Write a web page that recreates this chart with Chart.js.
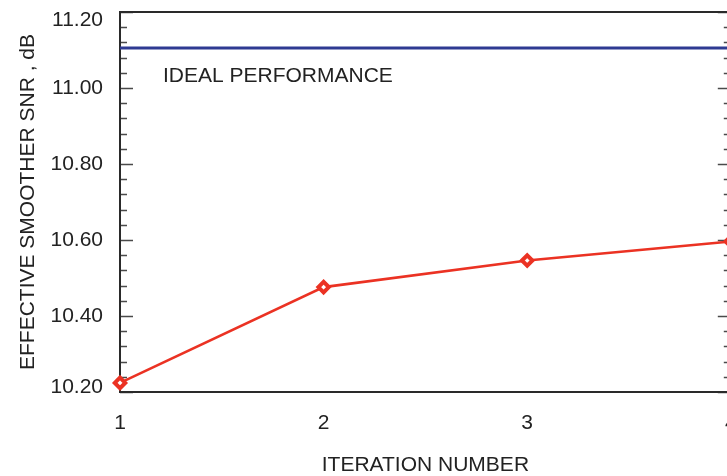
<!DOCTYPE html>
<html>
<head>
<meta charset="utf-8">
<script src="https://cdn.jsdelivr.net/npm/chart.js@4/dist/chart.umd.min.js"></script>
<style>
  html, body { margin: 0; padding: 0; background: #fff; overflow: hidden; width: 727px; height: 476px; }
  #wrap { position: relative; width: 740px; height: 476px; }
</style>
</head>
<body>
<div id="wrap"><canvas id="chart" width="740" height="476"></canvas></div>
<script>
// Effective smoother SNR versus iteration number
const iterations   = [1, 2, 3, 4];
const smootherSnr  = [10.224, 10.476, 10.546, 10.596];
const idealSnr     = 11.105;
const xTickLabels  = ['1', '2', '3', '4'];
const yTickValues  = [10.20, 10.40, 10.60, 10.80, 11.00, 11.20];
const yTickLabels  = ['10.20', '10.40', '10.60', '10.80', '11.00', '11.20'];
const idealLabel   = 'IDEAL PERFORMANCE';

const FONT = '"Liberation Sans", Arial, Helvetica, sans-serif';
const TEXT = '#222222';
const AXIS = '#2a2a2a';
const RED  = '#eb3223';
const BLUE = '#2e3a92';

// Box frame, inward ticks on both vertical sides, y labels and the reference caption
const framePlugin = {
  id: 'frame',
  beforeDatasetsDraw(chart) {
    const { ctx, chartArea: a, scales: { y } } = chart;
    ctx.save();
    // minor / major ticks
    ctx.strokeStyle = '#4a4a4a';
    ctx.lineWidth = 1.6;
    const minorStep = 0.04;
    const steps = Math.round((y.max - y.min) / minorStep);
    for (let i = 0; i <= steps; i++) {
      const v = y.min + i * minorStep;
      const py = Math.round(y.getPixelForValue(v)) + 0.5;
      const major = i % 5 === 0;
      const len = major ? 13 : 7;
      ctx.beginPath();
      ctx.moveTo(a.left, py); ctx.lineTo(a.left + len, py);
      ctx.moveTo(a.right, py); ctx.lineTo(a.right - len, py);
      ctx.stroke();
    }
    // frame
    ctx.strokeStyle = AXIS;
    ctx.lineWidth = 2;
    ctx.strokeRect(a.left, a.top, a.right - a.left, a.bottom - a.top);
    ctx.restore();
  },
  afterDraw(chart) {
    const { ctx, chartArea: a, scales: { y } } = chart;
    ctx.save();
    ctx.fillStyle = TEXT;
    ctx.font = '21px ' + FONT;
    ctx.textAlign = 'right';
    ctx.textBaseline = 'middle';
    yTickValues.forEach((v, i) => {
      let py = y.getPixelForValue(v);
      if (i === 0) py -= 5;
      if (i === yTickValues.length - 1) py += 8;
      ctx.fillText(yTickLabels[i], a.left - 17, py);
    });
    ctx.textAlign = 'left';
    ctx.fillText(idealLabel, a.left + 43, y.getPixelForValue(idealSnr) + 28);
    ctx.restore();
  }
};

new Chart(document.getElementById('chart'), {
  type: 'line',
  data: {
    datasets: [
      {
        label: 'Ideal',
        data: [{ x: iterations[0], y: idealSnr }, { x: iterations[iterations.length - 1], y: idealSnr }],
        borderColor: BLUE,
        borderWidth: 3,
        pointRadius: 0,
        clip: false
      },
      {
        label: 'Smoother',
        data: iterations.map((x, i) => ({ x, y: smootherSnr[i] })),
        borderColor: RED,
        borderWidth: 2.6,
        pointStyle: 'rectRot',
        pointRadius: 5.2,
        pointBorderWidth: 4,
        pointBorderColor: RED,
        pointBackgroundColor: '#ffffff',
        tension: 0,
        clip: false
      }
    ]
  },
  options: {
    responsive: false,
    animation: false,
    events: [],
    layout: { padding: { top: 12, right: 8, left: 0, bottom: 0 } },
    plugins: { legend: { display: false }, tooltip: { enabled: false } },
    scales: {
      x: {
        type: 'linear',
        min: 1,
        max: 4,
        grid: { display: false, drawTicks: false },
        border: { display: false },
        ticks: {
          stepSize: 1,
          padding: 19,
          color: TEXT,
          font: { family: FONT, size: 21 },
          maxRotation: 0,
          autoSkip: false,
          callback: (v) => xTickLabels[iterations.indexOf(v)] ?? ''
        },
        title: {
          display: true,
          text: 'ITERATION NUMBER',
          color: TEXT,
          font: { family: FONT, size: 21, lineHeight: 1 },
          padding: { top: 0, bottom: 0 }
        },
        afterFit: (s) => { s.height = 84; s.paddingLeft = 0; s.paddingRight = 0; }
      },
      y: {
        type: 'linear',
        min: 10.2,
        max: 11.2,
        grid: { display: false, drawTicks: false },
        border: { display: false },
        ticks: { display: false },
        title: {
          display: true,
          text: 'EFFECTIVE SMOOTHER SNR , dB',
          color: TEXT,
          font: { family: FONT, size: 21, lineHeight: 1 },
          padding: { top: 17.5, bottom: 0 }
        },
        afterFit: (s) => { s.width = 120; }
      }
    }
  },
  plugins: [framePlugin]
});
</script>
</body>
</html>
